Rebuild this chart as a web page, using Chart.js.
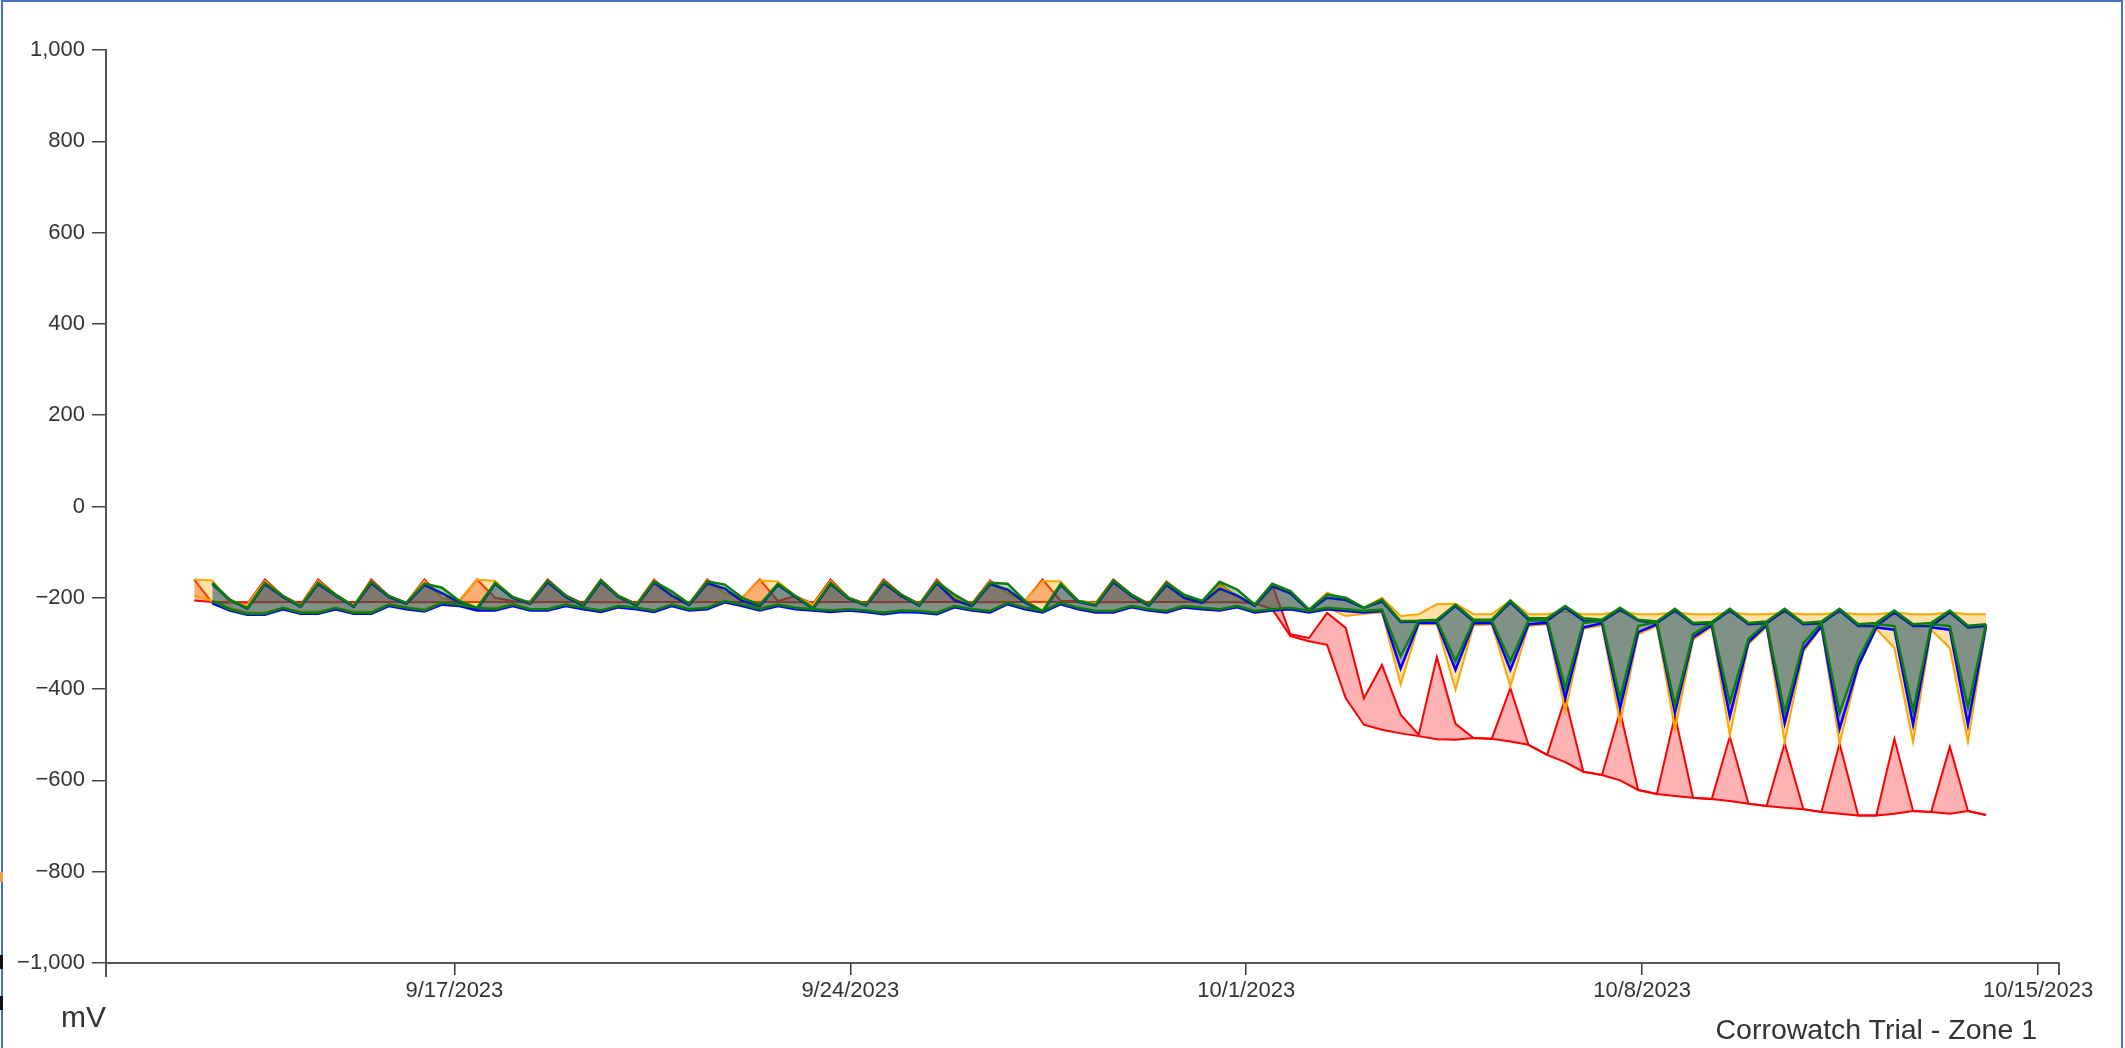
<!DOCTYPE html>
<html>
<head>
<meta charset="utf-8">
<script src="https://cdn.jsdelivr.net/npm/chart.js@4.4.0/dist/chart.umd.min.js"></script>
<style>
html,body{margin:0;padding:0;background:#fff;overflow:hidden}
#wrap{position:relative;width:2125px;height:1048px;background:#fff}
#c{position:absolute;left:0;top:0}
#frame{position:absolute;left:1px;top:0;width:2122px;height:1060px;border:2px solid #4472C4;box-sizing:border-box;pointer-events:none}
.lbl{position:absolute;font-family:"Liberation Sans",Arial,sans-serif;color:#333;white-space:nowrap}
#mv{left:61px;top:1000px;font-size:30px;line-height:34px}
#title{right:88px;top:1012px;font-size:28.5px;line-height:34px}
.mark{position:absolute;left:0;width:3px}
</style>
</head>
<body>
<div id="wrap">
<canvas id="c" width="2125" height="1048"></canvas>
<div id="frame"></div>
<div class="mark" style="top:872px;height:10px;background:#e8a040"></div>
<div class="mark" style="top:955px;height:14px;background:#111"></div>
<div class="mark" style="top:996px;height:14px;background:#111"></div>
<div class="lbl" id="mv">mV</div>
<div class="lbl" id="title">Corrowatch Trial - Zone 1</div>
</div>
<script>
// sample times, in days since 2023-09-01 00:00
const times = [11.40,11.72,12.03,12.34,12.65,12.97,13.28,13.59,13.90,14.22,
14.53,14.84,15.15,15.47,15.78,16.09,16.40,16.72,17.03,17.34,
17.65,17.97,18.28,18.59,18.90,19.22,19.53,19.84,20.15,20.47,
20.78,21.09,21.40,21.72,22.03,22.34,22.65,22.97,23.28,23.59,
23.90,24.22,24.53,24.84,25.15,25.47,25.78,26.09,26.40,26.72,
27.03,27.34,27.65,27.97,28.28,28.59,28.90,29.22,29.53,29.84,
30.15,30.46,30.78,31.11,31.43,31.76,32.08,32.40,32.73,33.05,
33.37,33.70,34.02,34.34,34.67,34.99,35.32,35.64,35.96,36.29,
36.61,36.93,37.26,37.58,37.90,38.23,38.55,38.88,39.20,39.52,
39.85,40.17,40.49,40.82,41.14,41.46,41.79,42.11,42.44,42.76,43.08];

const greenHigh = [null,-167,-204,-222,-167,-196,-218,-167,-193,-218,
-165,-196,-211,-169,-178,-207,-222,-167,-198,-211,
-162,-195,-215,-162,-196,-215,-164,-186,-213,-164,
-171,-200,-215,-169,-196,-222,-167,-200,-215,-165,
-193,-215,-165,-193,-215,-167,-169,-207,-229,-169,
-207,-215,-162,-193,-215,-167,-193,-207,-165,-182,
-215,-169,-185,-226,-193,-200,-222,-204,-251,-250,
-248,-215,-248,-248,-206,-244,-245,-218,-245,-248,
-222,-248,-252,-224,-255,-253,-224,-255,-252,-224,
-255,-252,-224,-258,-255,-228,-258,-255,-228,-261,-258];
const greenLow = [null,-207,-225,-235,-235,-222,-233,-233,-222,-233,
-233,-215,-222,-228,-211,-215,-222,-225,-215,-225,
-225,-215,-222,-228,-218,-222,-228,-215,-225,-222,
-207,-215,-225,-215,-222,-225,-228,-225,-228,-233,
-228,-229,-233,-218,-225,-229,-211,-222,-229,-211,
-222,-229,-229,-218,-225,-229,-218,-222,-225,-218,
-229,-225,-222,-229,-222,-225,-229,-226,-328,-250,
-250,-339,-250,-250,-339,-250,-248,-398,-255,-250,
-420,-262,-253,-436,-280,-255,-430,-290,-255,-452,
-300,-255,-452,-335,-258,-262,-448,-258,-262,-440,-258];
const blueHigh = [null,-170,-205,-224,-170,-198,-220,-170,-195,-220,
-168,-198,-213,-172,-190,-210,-225,-170,-200,-213,
-166,-198,-218,-165,-198,-217,-167,-195,-216,-168,
-180,-207,-218,-172,-198,-224,-170,-202,-217,-168,
-196,-217,-168,-205,-218,-170,-182,-210,-231,-172,
-209,-217,-166,-196,-217,-172,-200,-211,-180,-195,
-218,-175,-190,-228,-200,-205,-222,-208,-253,-252,
-252,-218,-252,-251,-210,-248,-250,-222,-250,-252,
-226,-250,-255,-228,-258,-256,-228,-258,-256,-228,
-258,-256,-228,-262,-262,-232,-262,-262,-232,-265,-262];
const blueLow = [null,-212,-228,-237,-237,-225,-235,-235,-225,-235,
-235,-218,-225,-230,-215,-218,-228,-228,-218,-228,
-228,-218,-225,-231,-221,-225,-231,-218,-228,-225,
-210,-218,-228,-218,-225,-228,-231,-228,-231,-236,
-231,-232,-236,-221,-228,-232,-214,-225,-232,-214,
-225,-232,-232,-221,-228,-232,-221,-225,-228,-221,
-232,-228,-225,-232,-225,-229,-232,-229,-355,-255,
-255,-358,-256,-255,-358,-258,-255,-420,-265,-256,
-442,-275,-258,-452,-287,-260,-460,-297,-260,-475,
-312,-262,-487,-349,-265,-270,-478,-265,-270,-478,-262];
const orangeHigh = [-160,-162,-210,-215,-163,-197,-216,-163,-194,-218,
-163,-197,-212,-163,-200,-205,-160,-163,-200,-210,
-162,-196,-215,-162,-196,-214,-162,-193,-213,-162,
-190,-200,-162,-164,-196,-215,-163,-200,-214,-163,
-194,-214,-163,-198,-214,-164,-190,-207,-163,-164,
-207,-212,-162,-194,-214,-165,-196,-207,-172,-195,
-216,-172,-187,-226,-189,-205,-222,-200,-240,-236,
-214,-213,-236,-236,-206,-236,-236,-230,-236,-236,
-230,-236,-236,-232,-236,-236,-233,-236,-236,-233,
-236,-236,-233,-236,-236,-232,-236,-236,-232,-236,-236];
const orangeLow = [-195,-207,-222,-232,-232,-222,-230,-230,-222,-230,
-230,-215,-220,-225,-210,-215,-222,-222,-215,-225,
-225,-215,-222,-228,-218,-222,-228,-215,-225,-222,
-207,-215,-222,-215,-222,-225,-228,-225,-228,-232,
-228,-229,-232,-218,-225,-229,-211,-222,-229,-211,
-222,-229,-229,-218,-225,-229,-218,-222,-225,-218,
-229,-225,-222,-229,-222,-240,-235,-232,-390,-258,
-258,-401,-260,-258,-394,-262,-258,-449,-268,-260,
-475,-280,-262,-488,-292,-264,-501,-302,-264,-516,
-318,-265,-519,-352,-268,-310,-516,-270,-310,-516,-266];
const redHigh = [-160,-211,-211,-213,-160,-196,-215,-160,-193,-218,
-160,-196,-211,-160,-200,-207,-160,-200,-207,-208,
-160,-195,-213,-160,-196,-213,-160,-196,-213,-160,
-190,-200,-160,-207,-196,-213,-160,-200,-213,-160,
-193,-213,-160,-200,-213,-162,-190,-207,-160,-207,
-207,-211,-160,-193,-213,-164,-196,-207,-170,-196,
-215,-172,-280,-288,-233,-266,-420,-347,-456,-500,
-330,-476,-507,-509,-398,-522,-544,-420,-581,-588,
-449,-621,-630,-458,-638,-641,-504,-651,-656,-519,
-663,-669,-519,-677,-677,-509,-667,-669,-526,-667,-676];
const redLow = [-206,-209,-209,-210,-210,-209,-209,-210,-210,-209,
-209,-209,-210,-210,-209,-209,-209,-209,-210,-210,
-209,-209,-209,-210,-210,-209,-209,-209,-210,-209,
-209,-209,-209,-209,-210,-210,-209,-209,-209,-210,
-209,-209,-209,-209,-210,-210,-209,-209,-209,-209,
-209,-210,-210,-209,-209,-209,-209,-210,-210,-210,
-212,-225,-284,-295,-303,-420,-478,-489,-497,-503,
-510,-511,-507,-509,-515,-522,-544,-560,-581,-588,
-600,-621,-630,-634,-638,-641,-645,-651,-656,-660,
-663,-669,-673,-677,-677,-673,-667,-669,-673,-667,-676];

const xTicks = [16, 23, 30, 37, 44];   // 9/17, 9/24, 10/1, 10/8, 10/15
const yMin = -1000, yMax = 1000, yStep = 200;

function pts(arr){ return times.map((t,i)=>({x:t, y:arr[i]})); }
function fmtDate(d){
  const dt = new Date(Date.UTC(2023,8,1) + Math.round(d*86400000));
  return (dt.getUTCMonth()+1)+'/'+dt.getUTCDate()+'/'+dt.getUTCFullYear();
}
function fmtNum(v){
  const s = Math.abs(v).toLocaleString('en-US');
  return (v<0?'\u2212':'')+s;
}
function pair(label, hi, lo, color, fillColor, width){
  return [
    {label:label+' high', data:pts(hi), borderColor:color, borderWidth:width, fill:false, pointRadius:0, tension:0},
    {label:label+' low', data:pts(lo), borderColor:color, borderWidth:width, backgroundColor:fillColor, fill:'-1', pointRadius:0, tension:0}
  ];
}
const datasets = [].concat(
  pair('Green', greenHigh, greenLow, '#0a800a', 'rgba(0,110,0,0.3)', 2.5),
  pair('Blue', blueHigh, blueLow, '#0000ff', 'rgba(0,0,255,0.28)', 2.5),
  pair('Orange', orangeHigh, orangeLow, '#ffa500', 'rgba(255,165,0,0.35)', 2),
  pair('Red', redHigh, redLow, '#ff0000', 'rgba(255,0,0,0.3)', 2)
);

const outerTicks = {
  id:'outerTicks',
  afterDraw(chart){
    const ctx = chart.ctx, a = chart.chartArea;
    ctx.save();
    ctx.strokeStyle = '#555'; ctx.lineWidth = 2;
    ctx.beginPath();
    ctx.moveTo(a.left, a.bottom); ctx.lineTo(a.left, a.bottom+14);
    ctx.moveTo(a.right, a.bottom); ctx.lineTo(a.right, a.bottom+12);
    ctx.stroke();
    ctx.restore();
  }
};

new Chart(document.getElementById('c'), {
  type:'line',
  data:{datasets},
  options:{
    responsive:false, animation:false, devicePixelRatio:1,
    layout:{padding:{top:50, left:0, right:66, bottom:0}},
    plugins:{legend:{display:false}, tooltip:{enabled:false}},
    elements:{line:{borderJoinStyle:'miter'}},
    scales:{
      x:{
        type:'linear', min:9.84, max:44.37,
        afterBuildTicks(s){ s.ticks = xTicks.map(v=>({value:v})); },
        afterFit(s){ s.height = 85; },
        grid:{display:true, drawOnChartArea:false, drawTicks:true, tickLength:12, color:'#333', lineWidth:1.5},
        border:{display:true, color:'#555', width:2},
        ticks:{padding:3, color:'#333', font:{family:'"Liberation Sans", Arial, sans-serif', size:22}, maxRotation:0, autoSkip:false,
          callback:(v)=>fmtDate(v)}
      },
      y:{
        type:'linear', min:yMin, max:yMax,
        afterFit(s){ s.width = 106; },
        grid:{display:true, drawOnChartArea:false, drawTicks:true, tickLength:14, color:'#444', lineWidth:1.5},
        border:{display:true, color:'#555', width:2},
        ticks:{stepSize:yStep, padding:7, color:'#333', font:{family:'"Liberation Sans", Arial, sans-serif', size:22},
          callback:(v)=>fmtNum(v)}
      }
    }
  },
  plugins:[outerTicks]
});
</script>
</body>
</html>
